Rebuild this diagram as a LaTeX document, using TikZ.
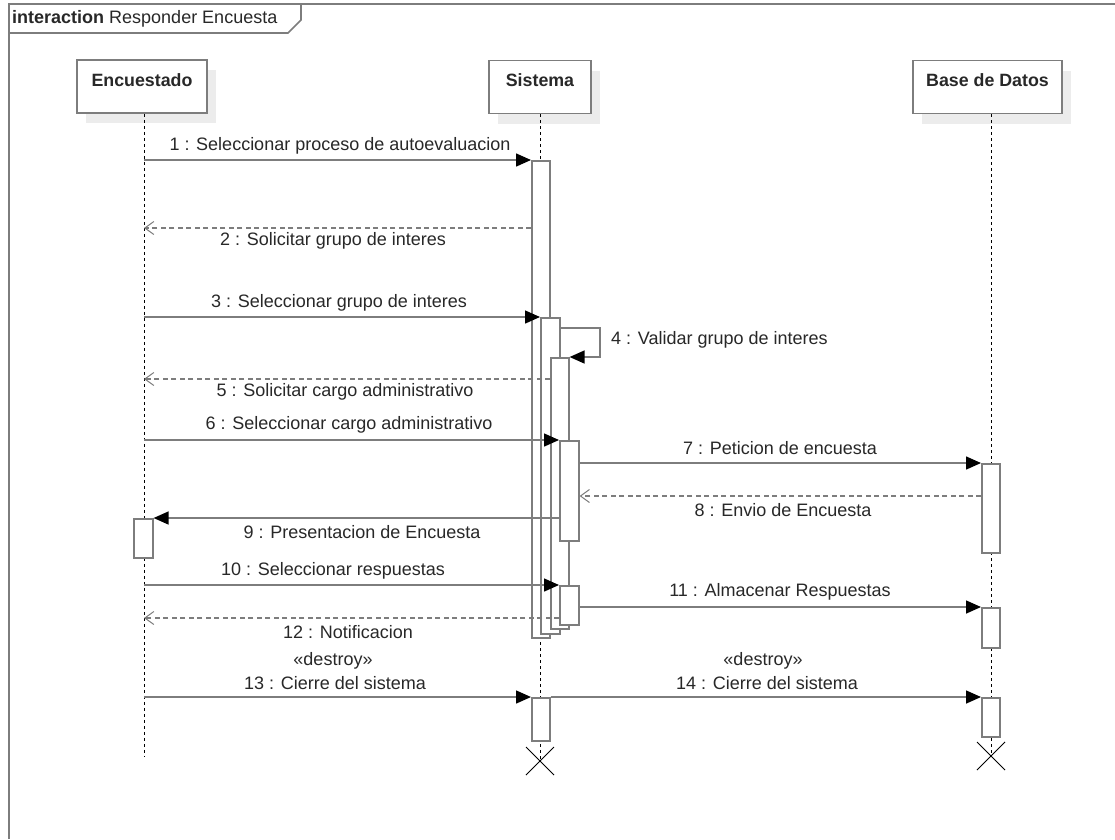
\documentclass[tikz,border=0pt]{standalone}
\usepackage{fontspec}
\setmainfont{Liberation Sans}
\usetikzlibrary{arrows.meta,calc}
\definecolor{lc}{RGB}{125,125,125}
\definecolor{shc}{RGB}{236,236,236}
\definecolor{txc}{RGB}{40,40,40}
\tikzset{
  lbl/.style={font=\fontsize{18}{20}\selectfont, text=txc, inner sep=0pt},
  head/.style={draw=lc, line width=1.6pt, fill=white, minimum width=#1, inner sep=0pt,
     text height=26pt, text depth=27pt, font=\bfseries\fontsize{17.8}{20}\selectfont, text=txc},
  bar/.style={draw=lc, line width=1.6pt, fill=white, minimum width=18pt, minimum height=#1,
     inner sep=0pt, anchor=north west},
  life/.style={black, line width=1pt, dash pattern=on 3pt off 3pt},
  call/.style={draw=lc, line width=1.5pt, -{Triangle[length=15pt,width=13pt,fill=black,color=black]}},
  ret/.style={draw=lc, line width=1.5pt, dash pattern=on 5pt off 3.5pt,
     -{Straight Barb[length=9pt,width=13pt,line width=1pt,color=lc]}},
  xmark/.style={black, line width=1pt},
}
\begin{document}
\begin{tikzpicture}[x=1pt,y=-1pt]
\useasboundingbox (0,0) rectangle (1115,839);
\fill[white] (0,0) rectangle (1115,839);
% frame
\draw[lc, line width=1.6pt] (9,839) -- (9,4) -- (1115,4);
\draw[lc, line width=1.6pt] (9,33) -- (288,33) -- (301,20) -- (301,4);
\node[lbl, anchor=west] (title) at (12,18.5) {\textbf{interaction} Responder Encuesta};

% heads with shadows
\coordinate (Ep) at (142,86.5);
\coordinate (Sp) at (540,87);
\coordinate (Bp) at (987.5,87);
\fill[shc] ($(Ep)+(-65+9,-26.5+10)$) rectangle ($(Ep)+(65+9,26.5+10)$);
\fill[shc] ($(Sp)+(-51+9,-26.5+10)$) rectangle ($(Sp)+(51+9,26.5+10)$);
\fill[shc] ($(Bp)+(-74.5+9,-26.5+10)$) rectangle ($(Bp)+(74.5+9,26.5+10)$);
\node[head=130pt] (E) at (Ep) {Encuestado};
\node[head=102pt] (S) at (Sp) {Sistema};
\node[head=149pt] (B) at (Bp) {Base de Datos};

% lifelines
\coordinate (eL) at (144,757);
\coordinate (sX) at (540,761);
\coordinate (bX) at (991,756);
\draw[life] (E.south -| eL) -- (eL);
\draw[life] (S.south -| sX) -- (sX);
\draw[life] (B.south -| bX) -- (bX);

% destroy marks
\draw[xmark] ($(sX)+(-14,-14)$) -- ($(sX)+(14,14)$) ($(sX)+(-14,14)$) -- ($(sX)+(14,-14)$);
\draw[xmark] ($(bX)+(-14,-14)$) -- ($(bX)+(14,14)$) ($(bX)+(-14,14)$) -- ($(bX)+(14,-14)$);

% activation bars
\node[bar=477pt] (s1) at (531,160) {};
\node[bar=316pt, minimum width=19pt] (s2) at (540,317) {};
\node[bar=271pt] (s3) at (550,357) {};
\node[bar=100pt, minimum width=19pt] (s4) at (559,440) {};
\node[bar=39pt, minimum width=19pt] (s5) at (559,585) {};
\node[bar=43pt] (s6) at (531,697) {};
\node[bar=89pt] (b1) at (981,463) {};
\node[bar=40pt] (b2) at (981,607) {};
\node[bar=39pt] (b3) at (981,697) {};
\node[bar=39pt, minimum width=19pt] (e1) at (133,518) {};

% message coordinates
\coordinate (m2) at (144,228);
\coordinate (m4) at (600,328);
\coordinate (m5) at (144,379);
\coordinate (m8) at (0,496);
\coordinate (m12) at (144,618);

% messages
\draw[call] (s1.north west -| eL) -- (s1.north west);
\draw[ret] (s1.west |- m2) -- (m2);
\draw[call] (s2.north west -| eL) -- (s2.north west);
\draw[call] (s2.east |- m4) -- (m4) |- (s3.north east);
\draw[ret] (s3.west |- m5) -- (m5);
\draw[call] (s4.north west -| eL) -- (s4.north west);
\draw[call] (s4.east |- b1.north west) -- (b1.north west);
\draw[ret] (b1.west |- m8) -- (s4.east |- m8);
\draw[call] (s4.west |- e1.north east) -- (e1.north east);
\draw[call] (s5.north west -| eL) -- (s5.north west);
\draw[call] (s5.east |- b2.north west) -- (b2.north west);
\draw[ret] (s5.west |- m12) -- (m12);
\draw[call] (s6.north west -| eL) -- (s6.north west);
\draw[call] (s6.north east) -- (b3.north west);

% labels
\node[lbl] (l1) at (340,146) {1 : Seleccionar proceso de autoevaluacion};
\node[lbl] (l2) at (333,241) {2 : Solicitar grupo de interes};
\node[lbl] (l3) at (339,303) {3 : Seleccionar grupo de interes};
\node[lbl, anchor=west] (l4) at (611,340) {4 : Validar grupo de interes};
\node[lbl] (l5) at (345,392) {5 : Solicitar cargo administrativo};
\node[lbl] (l6) at (349,425) {6 : Seleccionar cargo administrativo};
\node[lbl] (l7) at (780,448) {7 : Peticion de encuesta};
\node[lbl] (l8) at (783,510) {8 : Envio de Encuesta};
\node[lbl] (l9) at (362,532) {9 : Presentacion de Encuesta};
\node[lbl] (l10) at (333,571) {10 : Seleccionar respuestas};
\node[lbl] (l11) at (780,592) {11 : Almacenar Respuestas};
\node[lbl] (l12) at (348,632) {12 : Notificacion};
\node[lbl] (d13) at (333,661) {«destroy»};
\node[lbl] (l13) at (335,683) {13 : Cierre del sistema};
\node[lbl] (d14) at (763,661) {«destroy»};
\node[lbl] (l14) at (767,683) {14 : Cierre del sistema};
\end{tikzpicture}
\end{document}
